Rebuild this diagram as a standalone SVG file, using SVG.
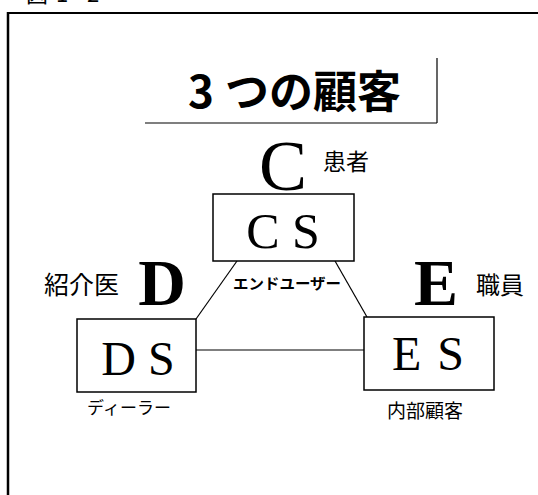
<svg xmlns="http://www.w3.org/2000/svg" width="538" height="495" viewBox="0 0 538 495">
<style>
.jp{font-family:"Noto Sans CJK JP","Noto Sans",sans-serif;fill:#000}
.ser{font-family:"Liberation Serif","Times New Roman",serif;fill:#000}
.box{fill:#fff;stroke:#000;stroke-width:1.5}
.ln{stroke:#000;stroke-width:1.2;fill:none}
</style>
<rect width="538" height="495" fill="#fff"/>
<g id="caption">
<text class="jp" x="26" y="2" font-size="22">図<tspan x="56">1</tspan><tspan x="70">-</tspan><tspan x="87">2</tspan></text>
</g>
<g id="frame">
<line x1="8" y1="13" x2="538" y2="13" stroke="#000" stroke-width="2"/>
<line x1="8" y1="12" x2="8" y2="495" stroke="#000" stroke-width="2.5"/>
</g>
<g id="title">
<text class="jp" x="188" y="108" font-size="44" font-weight="bold">3<tspan x="225">つの顧客</tspan></text>
<line x1="145" y1="123" x2="437" y2="123" stroke="#000" stroke-width="1.2"/>
<line x1="437" y1="58" x2="437" y2="123" stroke="#000" stroke-width="1.2"/>
</g>
<g id="connectors">
<line class="ln" x1="237" y1="261" x2="196" y2="319"/>
<line class="ln" x1="335" y1="261" x2="367" y2="317"/>
<line class="ln" x1="196" y1="350" x2="364" y2="350"/>
</g>
<g id="node-cs">
<text class="ser" x="283" y="190" font-size="72" text-anchor="middle">C</text>
<text class="jp" x="323" y="170" font-size="23">患者</text>
<rect class="box" x="213" y="194" width="141" height="67"/>
<text class="ser" x="283" y="248" font-size="50" text-anchor="middle">C S</text>
<text class="jp" x="287" y="289" font-size="15" font-weight="bold" text-anchor="middle" textLength="108" lengthAdjust="spacingAndGlyphs">エンドユーザー</text>
</g>
<g id="node-ds">
<text class="jp" x="44" y="294" font-size="25">紹介医</text>
<text class="ser" x="162" y="305" font-size="66" text-anchor="middle" font-weight="bold">D</text>
<rect class="box" x="77" y="319" width="119" height="73"/>
<text class="ser" x="138" y="375" font-size="48" text-anchor="middle">D S</text>
<text class="jp" x="129" y="414" font-size="17" text-anchor="middle">ディーラー</text>
</g>
<g id="node-es">
<text class="ser" x="436" y="305" font-size="66" text-anchor="middle" font-weight="bold">E</text>
<text class="jp" x="476" y="294" font-size="24">職員</text>
<rect class="box" x="364" y="317" width="130" height="73"/>
<text class="ser" x="428" y="370" font-size="48" text-anchor="middle" word-spacing="4">E S</text>
<text class="jp" x="425" y="418" font-size="19" text-anchor="middle">内部顧客</text>
</g>
</svg>
